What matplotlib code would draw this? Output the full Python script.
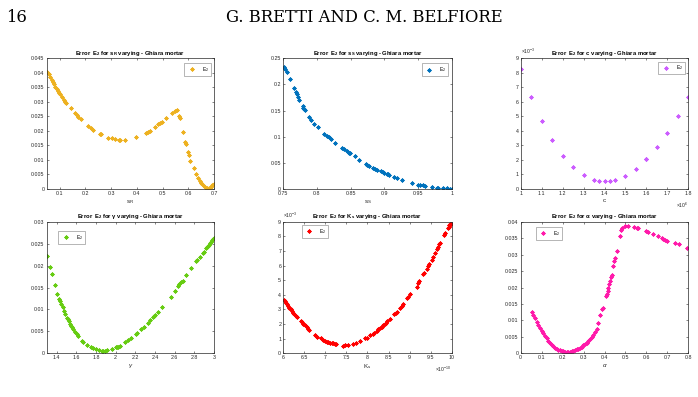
import numpy as np
import matplotlib
matplotlib.use("Agg")
import matplotlib.pyplot as plt
from matplotlib.ticker import ScalarFormatter, MultipleLocator

# ---- data ----
sR = [0.0526, 0.0578, 0.0629, 0.0694, 0.0733, 0.0784, 0.0836, 0.0888, 0.0926,
      0.0965, 0.1017, 0.1107, 0.1172, 0.1211, 0.1249, 0.1430, 0.1598, 0.1663,
      0.1727, 0.1818, 0.2115, 0.2231, 0.2309, 0.2567, 0.2593, 0.2864, 0.3019,
      0.3149, 0.3317, 0.3342, 0.3523, 0.3963, 0.4376, 0.4441, 0.4505, 0.4699,
      0.4828, 0.4893, 0.4983, 0.5125, 0.5384, 0.5474, 0.5565, 0.5642, 0.5668,
      0.5797, 0.5888, 0.5926, 0.5991, 0.6030, 0.6081, 0.6210, 0.6314, 0.6379,
      0.6443, 0.6508, 0.6547, 0.6598, 0.6676, 0.6740, 0.6805, 0.6870, 0.6934,
      0.6999]
err_sR = [0.0402, 0.0395, 0.0385, 0.0375, 0.0367, 0.0360, 0.0352, 0.0343, 0.0339,
          0.0332, 0.0327, 0.0316, 0.0305, 0.0300, 0.0296, 0.0279, 0.0261, 0.0255,
          0.0249, 0.0241, 0.0216, 0.0209, 0.0203, 0.0191, 0.0188, 0.0177, 0.0176,
          0.0172, 0.0170, 0.0169, 0.0170, 0.0178, 0.0193, 0.0196, 0.0200, 0.0214,
          0.0224, 0.0227, 0.0232, 0.0246, 0.0262, 0.0269, 0.0272, 0.0250, 0.0246,
          0.0197, 0.0161, 0.0156, 0.0129, 0.0117, 0.0096, 0.0071, 0.0052, 0.0039,
          0.0026, 0.0021, 0.0016, 0.0009, 0.0005, 0.0002, 0.0005, 0.0008, 0.0013,
          0.0016]

sS = [0.7515, 0.7530, 0.7550, 0.7599, 0.7653, 0.7683, 0.7698, 0.7723, 0.7738,
      0.7787, 0.7797, 0.7812, 0.7822, 0.7886, 0.7911, 0.7955, 0.8010, 0.8104,
      0.8153, 0.8178, 0.8208, 0.8272, 0.8376, 0.8401, 0.8450, 0.8475, 0.8490,
      0.8564, 0.8619, 0.8723, 0.8738, 0.8767, 0.8827, 0.8861, 0.8891, 0.8946,
      0.8985, 0.9000, 0.9035, 0.9050, 0.9069, 0.9149, 0.9183, 0.9257, 0.9411,
      0.9505, 0.9530, 0.9569, 0.9604, 0.9703, 0.9777, 0.9802, 0.9876, 0.9926,
      0.9975, 1.0000]
err_sS = [0.2328, 0.2296, 0.2245, 0.2098, 0.1926, 0.1849, 0.1811, 0.1754, 0.1709,
          0.1582, 0.1556, 0.1537, 0.1512, 0.1371, 0.1320, 0.1250, 0.1180, 0.1059,
          0.1014, 0.0995, 0.0950, 0.0887, 0.0791, 0.0765, 0.0727, 0.0695, 0.0689,
          0.0631, 0.0548, 0.0472, 0.0466, 0.0446, 0.0408, 0.0383, 0.0370, 0.0344,
          0.0325, 0.0313, 0.0293, 0.0281, 0.0274, 0.0223, 0.0204, 0.0172, 0.0115,
          0.0083, 0.0077, 0.0070, 0.0057, 0.0032, 0.0026, 0.0019, 0.0013, 0.0013,
          0.0006, 0.0006]

c_vals = np.array([1.00, 1.05, 1.10, 1.15, 1.20, 1.25, 1.30, 1.35, 1.375, 1.40,
                   1.425, 1.45, 1.50, 1.55, 1.60, 1.60, 1.65, 1.70, 1.75, 1.80]) * 1e6
err_c = np.array([8.25, 6.32, 4.68, 3.34, 2.30, 1.50, 0.93, 0.61, 0.55, 0.52,
                  0.55, 0.59, 0.91, 1.39, 2.07, 2.05, 2.89, 3.89, 5.05, 6.32]) * 1e-3

gamma = [1.307, 1.334, 1.351, 1.381, 1.408, 1.428, 1.439, 1.449, 1.462, 1.476,
         1.486, 1.503, 1.513, 1.523, 1.537, 1.547, 1.557, 1.570, 1.587, 1.604,
         1.614, 1.655, 1.665, 1.706, 1.746, 1.766, 1.800, 1.834, 1.858, 1.875,
         1.891, 1.908, 1.959, 2.000, 2.013, 2.027, 2.044, 2.094, 2.128, 2.152,
         2.212, 2.219, 2.263, 2.287, 2.331, 2.354, 2.381, 2.388, 2.398, 2.432,
         2.476, 2.567, 2.601, 2.635, 2.645, 2.665, 2.682, 2.719, 2.770, 2.821,
         2.831, 2.855, 2.888, 2.895, 2.922, 2.929, 2.939, 2.949, 2.963, 2.973,
         2.983, 2.993, 3.000]
err_gamma = [0.02225, 0.01959, 0.01800, 0.01549, 0.01344, 0.01230, 0.01192,
             0.01132, 0.01048, 0.00965, 0.00904, 0.00813, 0.00782, 0.00737,
             0.00668, 0.00630, 0.00592, 0.00562, 0.00494, 0.00448, 0.00395,
             0.00281, 0.00251, 0.00182, 0.00137, 0.00122, 0.00091, 0.00068,
             0.00061, 0.00053, 0.00061, 0.00068, 0.00091, 0.00137, 0.00144,
             0.00152, 0.00175, 0.00251, 0.00304, 0.00342, 0.00448, 0.00471,
             0.00554, 0.00592, 0.00699, 0.00767, 0.00820, 0.00851, 0.00866,
             0.00942, 0.01048, 0.01291, 0.01420, 0.01527, 0.01580, 0.01633,
             0.01656, 0.01785, 0.01937, 0.02104, 0.02127, 0.02202, 0.02294,
             0.02316, 0.02392, 0.02415, 0.02446, 0.02476, 0.02506, 0.02537,
             0.02575, 0.02605, 0.02620]

ks = np.array([6.016, 6.040, 6.063, 6.095, 6.119, 6.143, 6.174, 6.206, 6.238,
               6.261, 6.293, 6.317, 6.412, 6.444, 6.475, 6.515, 6.554, 6.594,
               6.618, 6.752, 6.792, 6.887, 6.935, 6.990, 7.030, 7.069, 7.109,
               7.149, 7.188, 7.228, 7.251, 7.410, 7.465, 7.545, 7.663, 7.727,
               7.822, 7.941, 7.980, 8.059, 8.123, 8.154, 8.218, 8.257, 8.297,
               8.337, 8.376, 8.416, 8.440, 8.471, 8.535, 8.638, 8.669, 8.693,
               8.772, 8.812, 8.851, 8.931, 8.970, 9.010, 9.168, 9.208, 9.232,
               9.327, 9.343, 9.406, 9.446, 9.469, 9.525, 9.564, 9.604, 9.659,
               9.683, 9.707, 9.723, 9.826, 9.850, 9.913, 9.929, 9.945, 9.960,
               9.976]) * 1e-10
err_ks = np.array([3.645, 3.577, 3.463, 3.349, 3.213, 3.121, 3.008, 2.894, 2.780,
                   2.666, 2.575, 2.483, 2.210, 2.119, 2.028, 1.914, 1.800, 1.686,
                   1.618, 1.230, 1.139, 1.025, 0.934, 0.843, 0.797, 0.775, 0.729,
                   0.706, 0.684, 0.638, 0.615, 0.530, 0.540, 0.550, 0.661, 0.706,
                   0.843, 1.025, 1.071, 1.253, 1.321, 1.390, 1.527, 1.640, 1.732,
                   1.823, 1.914, 2.005, 2.096, 2.210, 2.370, 2.666, 2.780, 2.848,
                   3.121, 3.258, 3.372, 3.759, 3.873, 4.056, 4.557, 4.830, 4.944,
                   5.400, 5.468, 5.742, 5.969, 6.083, 6.380, 6.607, 6.835, 7.154,
                   7.291, 7.473, 7.519, 8.088, 8.202, 8.544, 8.658, 8.772, 8.817,
                   8.840]) * 1e-3

alpha = [0.0523, 0.0603, 0.0683, 0.0762, 0.0842, 0.0921, 0.1001, 0.1080, 0.1160,
         0.1240, 0.1319, 0.1399, 0.1478, 0.1558, 0.1637, 0.1717, 0.1796, 0.1876,
         0.1956, 0.2035, 0.2115, 0.2194, 0.2274, 0.2353, 0.2433, 0.2512, 0.2592,
         0.2672, 0.2751, 0.2831, 0.2910, 0.2990, 0.3069, 0.3149, 0.3228, 0.3308,
         0.3388, 0.3467, 0.3547, 0.3626, 0.3706, 0.3785, 0.3870, 0.3910, 0.4070,
         0.4110, 0.4150, 0.4180, 0.4230, 0.4260, 0.4310, 0.4340, 0.4420, 0.4470,
         0.4520, 0.4610, 0.4740, 0.4790, 0.4820, 0.4980, 0.5140, 0.5420, 0.5540,
         0.5610, 0.5970, 0.6060, 0.6300, 0.6540, 0.6730, 0.6810, 0.6890, 0.6970,
         0.7370, 0.7560, 0.7920]
err_alpha = [0.01245, 0.01164, 0.01063, 0.00961, 0.00860, 0.00779, 0.00688,
             0.00607, 0.00526, 0.00455, 0.00384, 0.00323, 0.00262, 0.00212,
             0.00171, 0.00131, 0.00110, 0.00090, 0.00070, 0.00060, 0.00050,
             0.00045, 0.00045, 0.00050, 0.00060, 0.00080, 0.00100, 0.00120,
             0.00140, 0.00170, 0.00200, 0.00240, 0.00280, 0.00320, 0.00370,
             0.00430, 0.00490, 0.00560, 0.00650, 0.00750, 0.00910, 0.01160,
             0.01340, 0.01370, 0.01740, 0.01800, 0.01900, 0.01990, 0.02100,
             0.02200, 0.02310, 0.02380, 0.02650, 0.02810, 0.02890, 0.03120,
             0.03570, 0.03750, 0.03800, 0.03870, 0.03870, 0.03850, 0.03820,
             0.03800, 0.03720, 0.03680, 0.03620, 0.03570, 0.03500, 0.03470,
             0.03440, 0.03420, 0.03340, 0.03310, 0.03190]


class GFormatter(ScalarFormatter):
    def _set_format(self):
        self.format = "%g"


plt.rcParams["font.family"] = ["Liberation Sans", "DejaVu Sans"]
plt.rcParams["mathtext.fontset"] = "custom"
plt.rcParams["mathtext.rm"] = "Liberation Sans"
plt.rcParams["mathtext.it"] = "Liberation Sans:italic"
plt.rcParams["mathtext.bf"] = "Liberation Sans:bold"

fig = plt.figure(figsize=(6.98, 3.97), dpi=100)

fig.text(6 / 698, 1 - 17 / 397, "16", family="DejaVu Serif", fontsize=11.8,
         va="center", ha="left")
fig.text(364 / 698, 1 - 17 / 397, "G. BRETTI AND C. M. BELFIORE",
         family="DejaVu Serif", fontsize=11.8, va="center", ha="center")

axis_col = "#262626"
lefts = [46.7, 283.3, 520.7]
widths = [167.3, 168.4, 167.6]

panels = [
    dict(x=sR, y=err_sR, col="#EDB120", sym="s_R", lab="$\\mathregular{s_R}$",
         xlim=(0.05, 0.7), xt=0.1, ylim=(0, 0.045), yt=0.005, leg=(0.821, 0.964)),
    dict(x=sS, y=err_sS, col="#0072BD", sym="s_S", lab="$\\mathregular{s_S}$",
         xlim=(0.75, 1.0), xt=0.05, ylim=(0, 0.25), yt=0.05, leg=(0.822, 0.962)),
    dict(x=c_vals, y=err_c, col="#CC5CFF", sym="c", lab="c",
         xlim=(1e6, 1.8e6), xt=1e5, ylim=(0, 9e-3), yt=1e-3, leg=(0.821, 0.975),
         xp=6, yp=-3),
    dict(x=gamma, y=err_gamma, col="#66CC11", sym="\\gamma", lab="$\\gamma$",
         xlim=(1.3, 3.0), xt=0.2, ylim=(0, 0.03), yt=0.005, leg=(0.069, 0.932)),
    dict(x=ks, y=err_ks, col="#FF0000", sym="K_s", lab="$\\mathregular{K_s}$",
         xlim=(6e-10, 10e-10), xt=0.5e-10, ylim=(0, 9e-3), yt=1e-3,
         leg=(0.109, 0.975), xp=-10, yp=-3),
    dict(x=alpha, y=err_alpha, col="#FF1AAA", sym="\\alpha", lab="$\\alpha$",
         xlim=(0, 0.8), xt=0.1, ylim=(0, 0.04), yt=0.005, leg=(0.089, 0.962)),
]

for i, p in enumerate(panels):
    row, colx = divmod(i, 3)
    top = 58.3 if row == 0 else 221.7
    h = 130.7 if row == 0 else 131.6
    ax = fig.add_axes([lefts[colx] / 698, 1 - (top + h) / 397,
                       widths[colx] / 698, h / 397])
    ax.plot(p["x"], p["y"], linestyle="none", marker=(8, 2, 0),
            markersize=2.8, markeredgewidth=0.7, color=p["col"],
            label="$\\mathregular{E_2}$")
    ax.set_xlim(*p["xlim"])
    ax.set_ylim(*p["ylim"])
    ax.xaxis.set_major_locator(MultipleLocator(p["xt"]))
    ax.yaxis.set_major_locator(MultipleLocator(p["yt"]))
    for axis, key in ((ax.xaxis, "xp"), (ax.yaxis, "yp")):
        f = GFormatter(useMathText=True)
        f.set_useOffset(False)
        if key in p:
            f.set_powerlimits((p[key], p[key]))
        axis.set_major_formatter(f)
        axis.get_offset_text().set_fontsize(3.6)
        axis.get_offset_text().set_color(axis_col)
    ax.tick_params(direction="in", length=1.6, width=0.4, labelsize=3.8,
                   colors=axis_col, pad=1.5, top=True, right=True)
    for s in ax.spines.values():
        s.set_linewidth(0.5)
        s.set_color(axis_col)
    ax.set_xlabel(p["lab"], fontsize=4.5, color=axis_col, labelpad=1.5)
    ax.set_title("Error $\\;\\mathbf{E}_\\mathbf{2}$ for $\\mathbf{" + p["sym"] +
                 "}$ varying - Ghiara mortar", fontsize=4.2, fontweight="bold",
                 pad=2.5)
    leg = ax.legend(loc="upper left", bbox_to_anchor=p["leg"], borderaxespad=0,
                    fontsize=3.6, handlelength=2.2, handletextpad=0.9,
                    borderpad=0.4, fancybox=False, framealpha=1,
                    edgecolor="#999999")
    leg.get_frame().set_linewidth(0.5)

fig.savefig("out.png", dpi=100)
